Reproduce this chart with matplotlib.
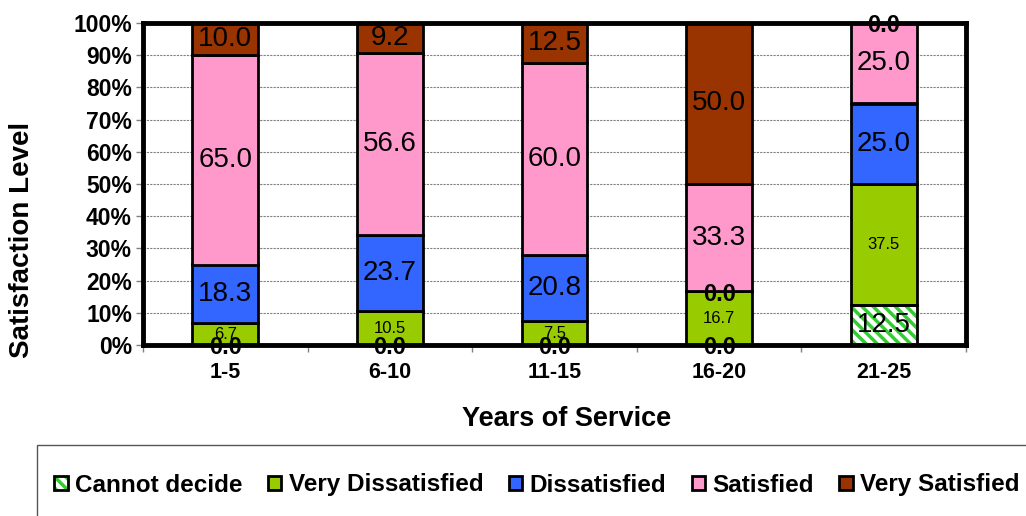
import matplotlib
matplotlib.use("Agg")
import matplotlib.pyplot as plt
from matplotlib.patches import Rectangle, Patch
import numpy as np

plt.rcParams['font.family'] = ['Liberation Sans', 'DejaVu Sans']
plt.rcParams['hatch.linewidth'] = 2.5

categories = ["1-5", "6-10", "11-15", "16-20", "21-25"]
series_names = ["Cannot decide", "Very Dissatisfied", "Dissatisfied", "Satisfied", "Very Satisfied"]
cannot_decide = [0.0, 0.0, 0.0, 0.0, 12.5]
very_dissatisfied = [6.7, 10.5, 7.5, 16.7, 37.5]
dissatisfied = [18.3, 23.7, 20.8, 0.0, 25.0]
satisfied = [65.0, 56.6, 60.0, 33.3, 25.0]
very_satisfied = [10.0, 9.2, 12.5, 50.0, 0.0]
yticklabels = ["0%", "10%", "20%", "30%", "40%", "50%", "60%", "70%", "80%", "90%", "100%"]

colors = ["white", "#99cc00", "#3366ff", "#ff99cc", "#993300"]
hatch_color = "#33cc33"

data = np.array([cannot_decide, very_dissatisfied, dissatisfied, satisfied, very_satisfied])
totals = data.sum(axis=0)
pct = data / totals * 100

fig = plt.figure(figsize=(10.26, 5.16), dpi=100)
ax = fig.add_axes([143/1026, 1-345/516, (966-143)/1026, (345-23)/516])

x = np.arange(len(categories))
width = 0.4
bottom = np.zeros(len(categories))
for i, name in enumerate(series_names):
    vals = pct[i]
    if i == 0:
        ax.bar(x, vals, width, bottom=bottom, color="white", edgecolor=hatch_color,
               hatch="\\\\\\", linewidth=0, zorder=3)
        ax.bar(x, vals, width, bottom=bottom, fill=False, edgecolor="black",
               linewidth=2, zorder=4)
    else:
        ax.bar(x, vals, width, bottom=bottom, color=colors[i], edgecolor="black",
               linewidth=2, zorder=3)
    for j in range(len(categories)):
        raw = data[i][j]
        yc = bottom[j] + vals[j] / 2
        if raw == 0:
            ax.annotate(f"{raw:.1f}", (x[j], yc), xytext=(0, -2), textcoords="offset points",
                        ha="center", va="center", fontsize=17, fontweight="bold",
                        color="black", zorder=6, annotation_clip=False)
        elif i == 1:
            ax.text(x[j], yc, f"{raw:.1f}", ha="center", va="center", fontsize=12,
                    color="black", zorder=5)
        else:
            ax.text(x[j], yc, f"{raw:.1f}", ha="center", va="center", fontsize=20,
                    color="black", zorder=5)
    bottom = bottom + vals

ax.set_xlim(-0.5, len(categories) - 0.5)
ax.set_ylim(0, 100)
ax.set_yticks(np.arange(0, 101, 10))
ax.set_yticklabels(yticklabels, fontsize=16.5, fontweight="bold")
ax.set_xticks(x)
ax.set_xticklabels(categories, fontsize=15.5, fontweight="bold")
ax.set_xticks(np.arange(-0.5, len(categories), 1.0), minor=True)
ax.tick_params(axis="x", which="major", length=0, pad=12)
ax.tick_params(axis="x", which="minor", length=5, direction="out", width=1, color="gray")
ax.tick_params(axis="y", length=5, direction="out", width=1, color="gray", pad=3)
ax.yaxis.grid(True, linestyle=(0, (2, 1)), color="#808080", linewidth=0.8, zorder=0)
ax.set_axisbelow(True)
for s in ax.spines.values():
    s.set_linewidth(3.5)
    s.set_color("black")
    s.set_zorder(5)

ax.set_ylabel("Satisfaction Level", fontsize=20, fontweight="bold")
ax.yaxis.set_label_coords((35-143)/823, (345-240)/322)
ax.set_xlabel("Years of Service", fontsize=19.5, fontweight="bold")
ax.xaxis.set_label_coords((567-143)/823, (345-406)/322)

# legend frame
fig.patches.append(Rectangle((37/1026, -0.05), 1.1, (516-445)/516 + 0.05,
                             transform=fig.transFigure, fill=False,
                             edgecolor="#555555", linewidth=1))
handles = []
for i, name in enumerate(series_names):
    if i == 0:
        handles.append((Patch(facecolor="white", edgecolor=hatch_color, hatch="\\\\\\", linewidth=0),
                        Patch(fill=False, edgecolor="black", linewidth=2)))
    else:
        handles.append(Patch(facecolor=colors[i], edgecolor="black", linewidth=2))
leg = fig.legend(handles=handles, labels=series_names, loc="center",
                 bbox_to_anchor=(537/1026, 1-485/516), ncol=5,
                 frameon=False, handlelength=0.55, handleheight=0.55, handletextpad=0.3,
                 columnspacing=1.05, prop={"size": 17.5, "weight": "bold"})

fig.savefig("out.png", dpi=100)
